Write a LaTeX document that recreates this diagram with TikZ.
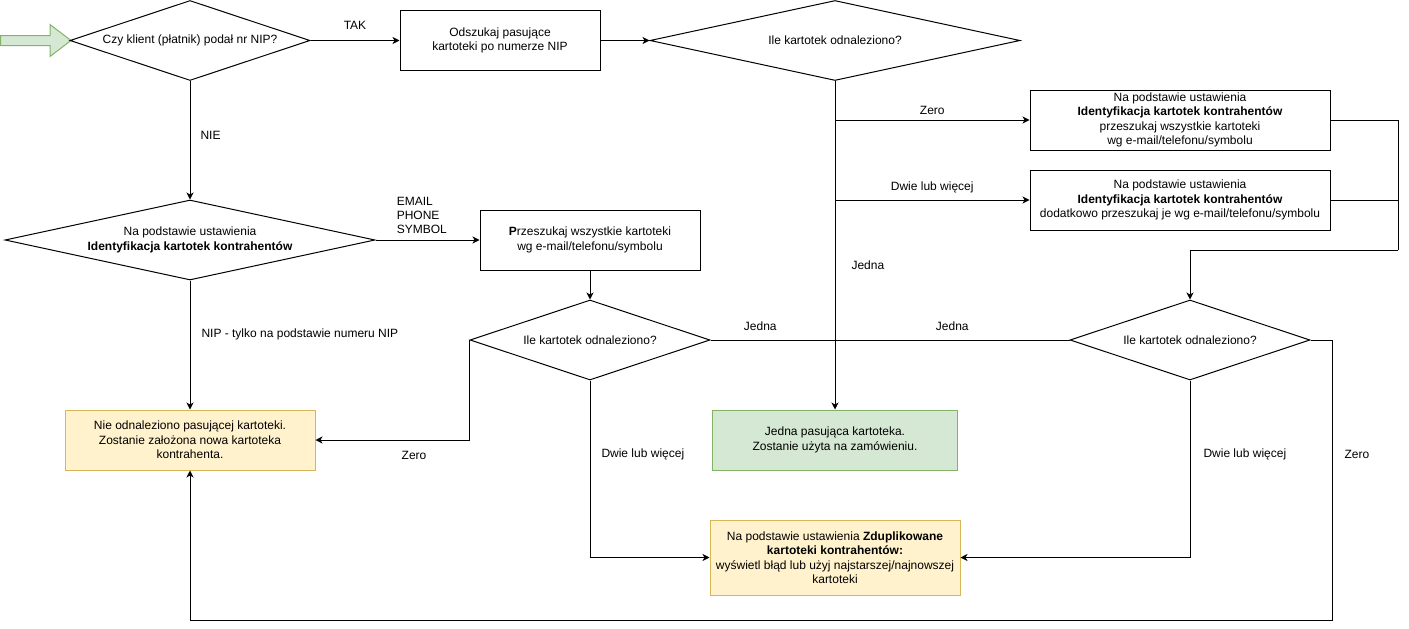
\documentclass[tikz,border=0pt]{standalone}
\usepackage{fontspec}
\setmainfont{Liberation Sans}
\usepackage{tikz}
\usetikzlibrary{shapes.geometric,arrows.meta}

\definecolor{greenfill}{HTML}{D5E8D4}
\definecolor{greenline}{HTML}{82B366}
\definecolor{yellowfill}{HTML}{FFF2CC}
\definecolor{yellowline}{HTML}{D6B656}

\begin{document}
\begin{tikzpicture}[x=1pt,y=-1pt,line width=1pt,
	font=\fontsize{12}{14.5}\selectfont,
	box/.style={draw,rectangle,align=center,inner sep=1pt,minimum width=#1,minimum height=60},
	choice/.style={draw,diamond,align=center,inner sep=0pt,minimum width=#1,minimum height=80},
	flow/.style={-{Stealth[length=7pt,width=7pt,inset=2pt]}},
	lbl/.style={inner sep=0pt}]
\useasboundingbox (0,0) rectangle (1409,629);
\draw[greenline,fill=greenfill] (0.5,35.5) -- (50,35.5) -- (50,24.5) -- (71,40.5) -- (50,56.5) -- (50,45.5) -- (0.5,45.5) -- cycle;
\node[choice=240,aspect=3] (nip) at (190,40.5) {Czy klient (płatnik) podał nr NIP?};
\node[box=200] (odszukaj) at (500,40.5) {Odszukaj pasujące\\kartoteki po numerze NIP};
\node[choice=370,aspect=4.625] (ile1) at (835,40.5) {Ile kartotek odnaleziono?};
\node[box=300] (zero1) at (1180,120) {Na podstawie ustawienia\\\textbf{Identyfikacja kartotek kontrahentów}\\przeszukaj wszystkie kartoteki\\wg e-mail/telefonu/symbolu};
\node[box=300] (wiele1) at (1180,200) {Na podstawie ustawienia\\\textbf{Identyfikacja kartotek kontrahentów}\\dodatkowo przeszukaj je wg e-mail/telefonu/symbolu};
\node[choice=370,aspect=4.625] (ident) at (190,240) {Na podstawie ustawienia\\\textbf{Identyfikacja kartotek kontrahentów}};
\node[box=220] (szukaj) at (590,240) {\textbf{P}rzeszukaj wszystkie kartoteki\\wg e-mail/telefonu/symbolu};
\node[choice=240,aspect=3] (ile2) at (590,340) {Ile kartotek odnaleziono?};
\node[choice=240,aspect=3] (ile3) at (1190,340) {Ile kartotek odnaleziono?};
\node[box=250,fill=yellowfill,draw=yellowline] (nowa) at (190,440) {Nie odnaleziono pasującej kartoteki.\\Zostanie założona nowa kartoteka\\kontrahenta.};
\node[box=245,fill=greenfill,draw=greenline] (jedna) at (835,440) {Jedna pasująca kartoteka.\\Zostanie użyta na zamówieniu.};
\node[box=250,minimum height=75,fill=yellowfill,draw=yellowline] (dupl) at (835,557.5) {Na podstawie ustawienia \textbf{Zduplikowane}\\\textbf{kartoteki kontrahentów:}\\wyświetl błąd lub użyj najstarszej/najnowszej\\kartoteki};
\coordinate (laczenie) at (1398,250);
\coordinate (jedno) at (835,340);
\coordinate (dol) at (1332,620);
\draw[flow] (nip.east) -- node[lbl,above=10pt] (ltak) {TAK} (odszukaj.west);
\draw[flow] (odszukaj.east) -- (ile1.west);
\draw[flow] (ile1.south) -- node[lbl,pos=0.56,right=16pt] (ljedna1) {Jedna} (jedna.north);
\draw[flow] (ile1.south |- zero1.west) -- node[lbl,above=5pt] (lzero1) {Zero} (zero1.west);
\draw[flow] (ile1.south |- wiele1.west) -- node[lbl,above=7pt] (lwiele1) {Dwie lub więcej} (wiele1.west);
\draw (zero1.east) -| (laczenie);
\draw (wiele1.east) -| (laczenie);
\draw[flow] (laczenie) -| (ile3.north);
\draw (ile2.east) -- node[lbl,pos=0.4,above=9pt] (ljedna2) {Jedna} (jedno);
\draw (ile3.west) -- node[lbl,above=9pt] (ljedna3) {Jedna} (jedno);
\draw[flow] (ile3.south) |- node[lbl,pos=0.21,right=13pt] (lwiele3) {Dwie lub więcej} (dupl.east);
\draw[flow] (ile3.east) -| node[lbl,pos=0.705,right=12pt] (lzero3) {Zero} (dol) -| (nowa.south);
\draw[flow] (ile2.west) |- node[lbl,pos=0.68,below=11pt] (lzero2) {Zero} (nowa.east);
\draw[flow] (ile2.south) |- node[lbl,pos=0.21,right=11pt] (lwiele2) {Dwie lub więcej} (dupl.west);
\draw[flow] (nip.south) -- node[lbl,pos=0.46,right=10pt] (lnie) {NIE} (ident.north);
\draw[flow] (ident.east) -- node[lbl,pos=0.2,anchor=south west,align=left,yshift=6pt,font=\fontsize{12}{14}\selectfont] (lkanaly) {EMAIL\\PHONE\\SYMBOL} (szukaj.west);
\draw[flow] (szukaj.south) -- (ile2.north);
\draw[flow] (ident.south) -- node[lbl,pos=0.42,right=11pt] (lnip) {NIP - tylko na podstawie numeru NIP} (nowa.north);
\end{tikzpicture}
\end{document}
